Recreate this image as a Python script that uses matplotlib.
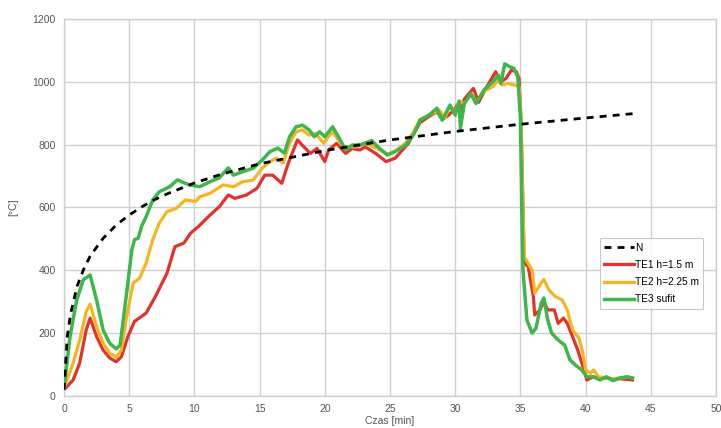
import matplotlib
matplotlib.use("Agg")
from matplotlib import pyplot as plt

# ----------------------------
# Data
# ----------------------------
n_time = [0, 0.25, 0.5, 1, 1.5, 2, 3, 4, 5, 6, 7, 8, 10, 12, 15, 20, 25, 30, 35, 40, 44]
n_temp = [20, 190, 261, 349, 403, 445, 502, 544, 576, 603, 626, 645, 678, 705, 739, 781, 815, 842, 865, 885, 900]

te1_time = [0, 0.7, 1.2, 1.7, 2.0, 2.5, 3.0, 3.5, 4.0, 4.4, 4.9, 5.4, 6.3, 7.0, 7.9, 8.5, 9.2,
            9.7, 10.3, 11.2, 11.9, 12.6, 13.1, 14.0, 14.8, 15.4, 16.0, 16.7, 17.2, 17.9, 18.4,
            18.9, 19.4, 20.0, 20.3, 20.9, 21.6, 22.1, 22.7, 23.1, 23.9, 24.7, 25.4, 26.4, 27.3,
            28.0, 28.6, 29.0, 29.5, 30.0, 30.3, 30.4, 30.7, 31.4, 31.8, 32.3, 33.1, 33.5, 33.9,
            34.3, 34.7, 34.9, 35.05, 35.2, 35.3, 35.6, 36.0, 36.1, 36.5, 36.8, 37.1, 37.6, 37.9,
            38.3, 38.6, 39.0, 39.4, 39.8, 40.1, 40.6, 41.1, 41.6, 42.1, 42.6, 43.2, 43.6]
te1_temp = [20, 51, 105, 210, 248, 189, 146, 121, 109, 125, 189, 237, 264, 316, 391, 475, 487,
            518, 539, 576, 602, 640, 629, 640, 661, 703, 703, 677, 741, 815, 793,
            772, 788, 746, 783, 804, 772, 788, 783, 793, 772, 746, 757, 804, 870,
            890, 905, 880, 894, 915, 935, 900, 945, 979, 935, 975, 1032, 1000, 1011,
            1037, 1032, 1010, 880, 600, 423, 412, 316, 258, 274, 300, 274, 274, 231,
            248, 231, 189, 146, 93, 51, 61, 55, 58, 52, 55, 53, 51]

te2_time = [0, 0.7, 1.2, 1.7, 2.0, 2.5, 3.0, 3.5, 4.0, 4.4, 4.8, 5.3, 5.8, 6.3, 6.8, 7.3, 7.9,
            8.6, 9.3, 10.1, 10.4, 11.2, 12.2, 13.0, 13.7, 14.5, 15.2, 15.8, 16.3, 16.8, 17.3,
            17.8, 18.3, 18.8, 19.3, 19.9, 20.6, 21.4, 22.4, 23.1, 23.9, 24.8, 25.4, 26.2, 26.8,
            27.3, 28.0, 28.8, 29.2, 29.6, 30.0, 30.3, 30.7, 31.2, 31.6, 32.2, 32.9, 33.3, 33.6,
            34.0, 34.5, 34.9, 35.05, 35.2, 35.3, 35.9, 36.1, 36.5, 36.8, 37.2, 37.7, 38.2, 38.6,
            39.0, 39.5, 39.8, 40.0, 40.4, 40.6, 41.0, 41.6, 42.1, 42.6, 43.2, 43.6]
te2_temp = [25, 105, 178, 268, 292, 221, 168, 136, 124, 146, 252, 359, 375, 423, 497, 550, 587,
            597, 624, 619, 634, 645, 672, 666, 682, 687, 725, 746, 757, 741, 805,
            841, 847, 830, 836, 805, 841, 793, 793, 805, 790, 770, 780, 805, 840,
            880, 895, 910, 885, 925, 900, 940, 930, 960, 935, 970, 985, 1005, 990,
            995, 990, 985, 880, 600, 443, 401, 327, 353, 371, 337, 316, 306, 274,
            210, 184, 136, 83, 72, 83, 61, 58, 55, 57, 60, 58]

te3_time = [0, 0.46, 0.97, 1.48, 2.0, 2.5, 3.0, 3.5, 4.0, 4.3, 4.8, 5.2, 5.4, 5.7, 5.95, 6.3,
            6.8, 7.3, 8.1, 8.7, 9.3, 9.66, 10.4, 11.2, 11.9, 12.6, 13.0, 13.7, 14.5, 15.2, 15.8,
            16.4, 16.9, 17.3, 17.8, 18.3, 18.8, 19.2, 19.6, 20.0, 20.6, 21.1, 21.6, 22.1, 22.7,
            23.6, 24.2, 24.8, 25.4, 26.2, 26.8, 27.3, 28.0, 28.6, 29.0, 29.6, 30.0, 30.3, 30.4,
            30.7, 31.2, 31.6, 32.2, 32.9, 33.3, 33.5, 33.8, 34.2, 34.5, 34.8, 35.0, 35.1, 35.2,
            35.5, 35.9, 36.2, 36.6, 36.8, 37.1, 37.4, 37.9, 38.4, 38.8, 39.2, 39.7, 40.1, 40.6,
            41.1, 41.6, 42.1, 42.6, 43.2, 43.6]
te3_temp = [25, 189, 305, 370, 385, 305, 210, 168, 150, 162, 328, 465, 497, 503, 540, 571,
            624, 650, 666, 688, 677, 672, 666, 682, 694, 726, 703, 714, 725, 751, 778,
            789, 773, 825, 857, 862, 847, 825, 841, 825, 857, 821, 783, 799, 799,
            813, 788, 767, 778, 799, 831, 878, 894, 916, 878, 926, 894, 937, 852,
            931, 963, 931, 974, 1000, 1022, 995, 1057, 1048, 1043, 1016, 889, 624, 400,
            242, 200, 216, 296, 312, 242, 200, 178, 162, 115, 99, 83, 61, 61,
            51, 61, 49, 57, 61, 57]

# ----------------------------
# Plot
# ----------------------------
plt.rcParams["font.family"] = ["Liberation Sans", "DejaVu Sans"]

fig = plt.figure(figsize=(7.21, 4.28), dpi=100)
ax = fig.add_axes([0.0888, 0.0748, 0.9042, 0.8808])

ax.plot(n_time, n_temp, color="black", linestyle=(0, (2.5, 2.2)), linewidth=2.0, label="N", zorder=5)
ax.plot(te1_time, te1_temp, color="#e2322b", linewidth=2.3, label="TE1 h=1.5 m", zorder=2)
ax.plot(te2_time, te2_temp, color="#f6b520", linewidth=2.3, label="TE2 h=2.25 m", zorder=3)
ax.plot(te3_time, te3_temp, color="#3db64c", linewidth=2.5, label="TE3 sufit", zorder=4)

ax.set_xlim(0, 50)
ax.set_ylim(0, 1200)
ax.set_xticks(range(0, 51, 5))
ax.set_yticks(range(0, 1201, 200))
ax.grid(True, color="#cfcfcf", linewidth=1.0)
ax.set_axisbelow(True)
for spine in ax.spines.values():
    spine.set_color("#cfcfcf")
    spine.set_linewidth(1.0)
ax.tick_params(length=0, labelsize=7.5, colors="#555555", pad=6)

ax.set_xlabel("Czas [min]", fontsize=7.5, color="#555555", labelpad=1)
ax.set_ylabel("[°C]", fontsize=7.5, color="#555555", labelpad=10)

leg = ax.legend(loc="upper left", bbox_to_anchor=(0.822, 0.419), fontsize=7.3,
                frameon=True, fancybox=False, edgecolor="#bbbbbb", handlelength=2.9,
                handletextpad=0.1, borderpad=0.45, labelspacing=0.72, borderaxespad=0)
leg.get_frame().set_linewidth(0.8)

plt.savefig("out.png", dpi=100)
